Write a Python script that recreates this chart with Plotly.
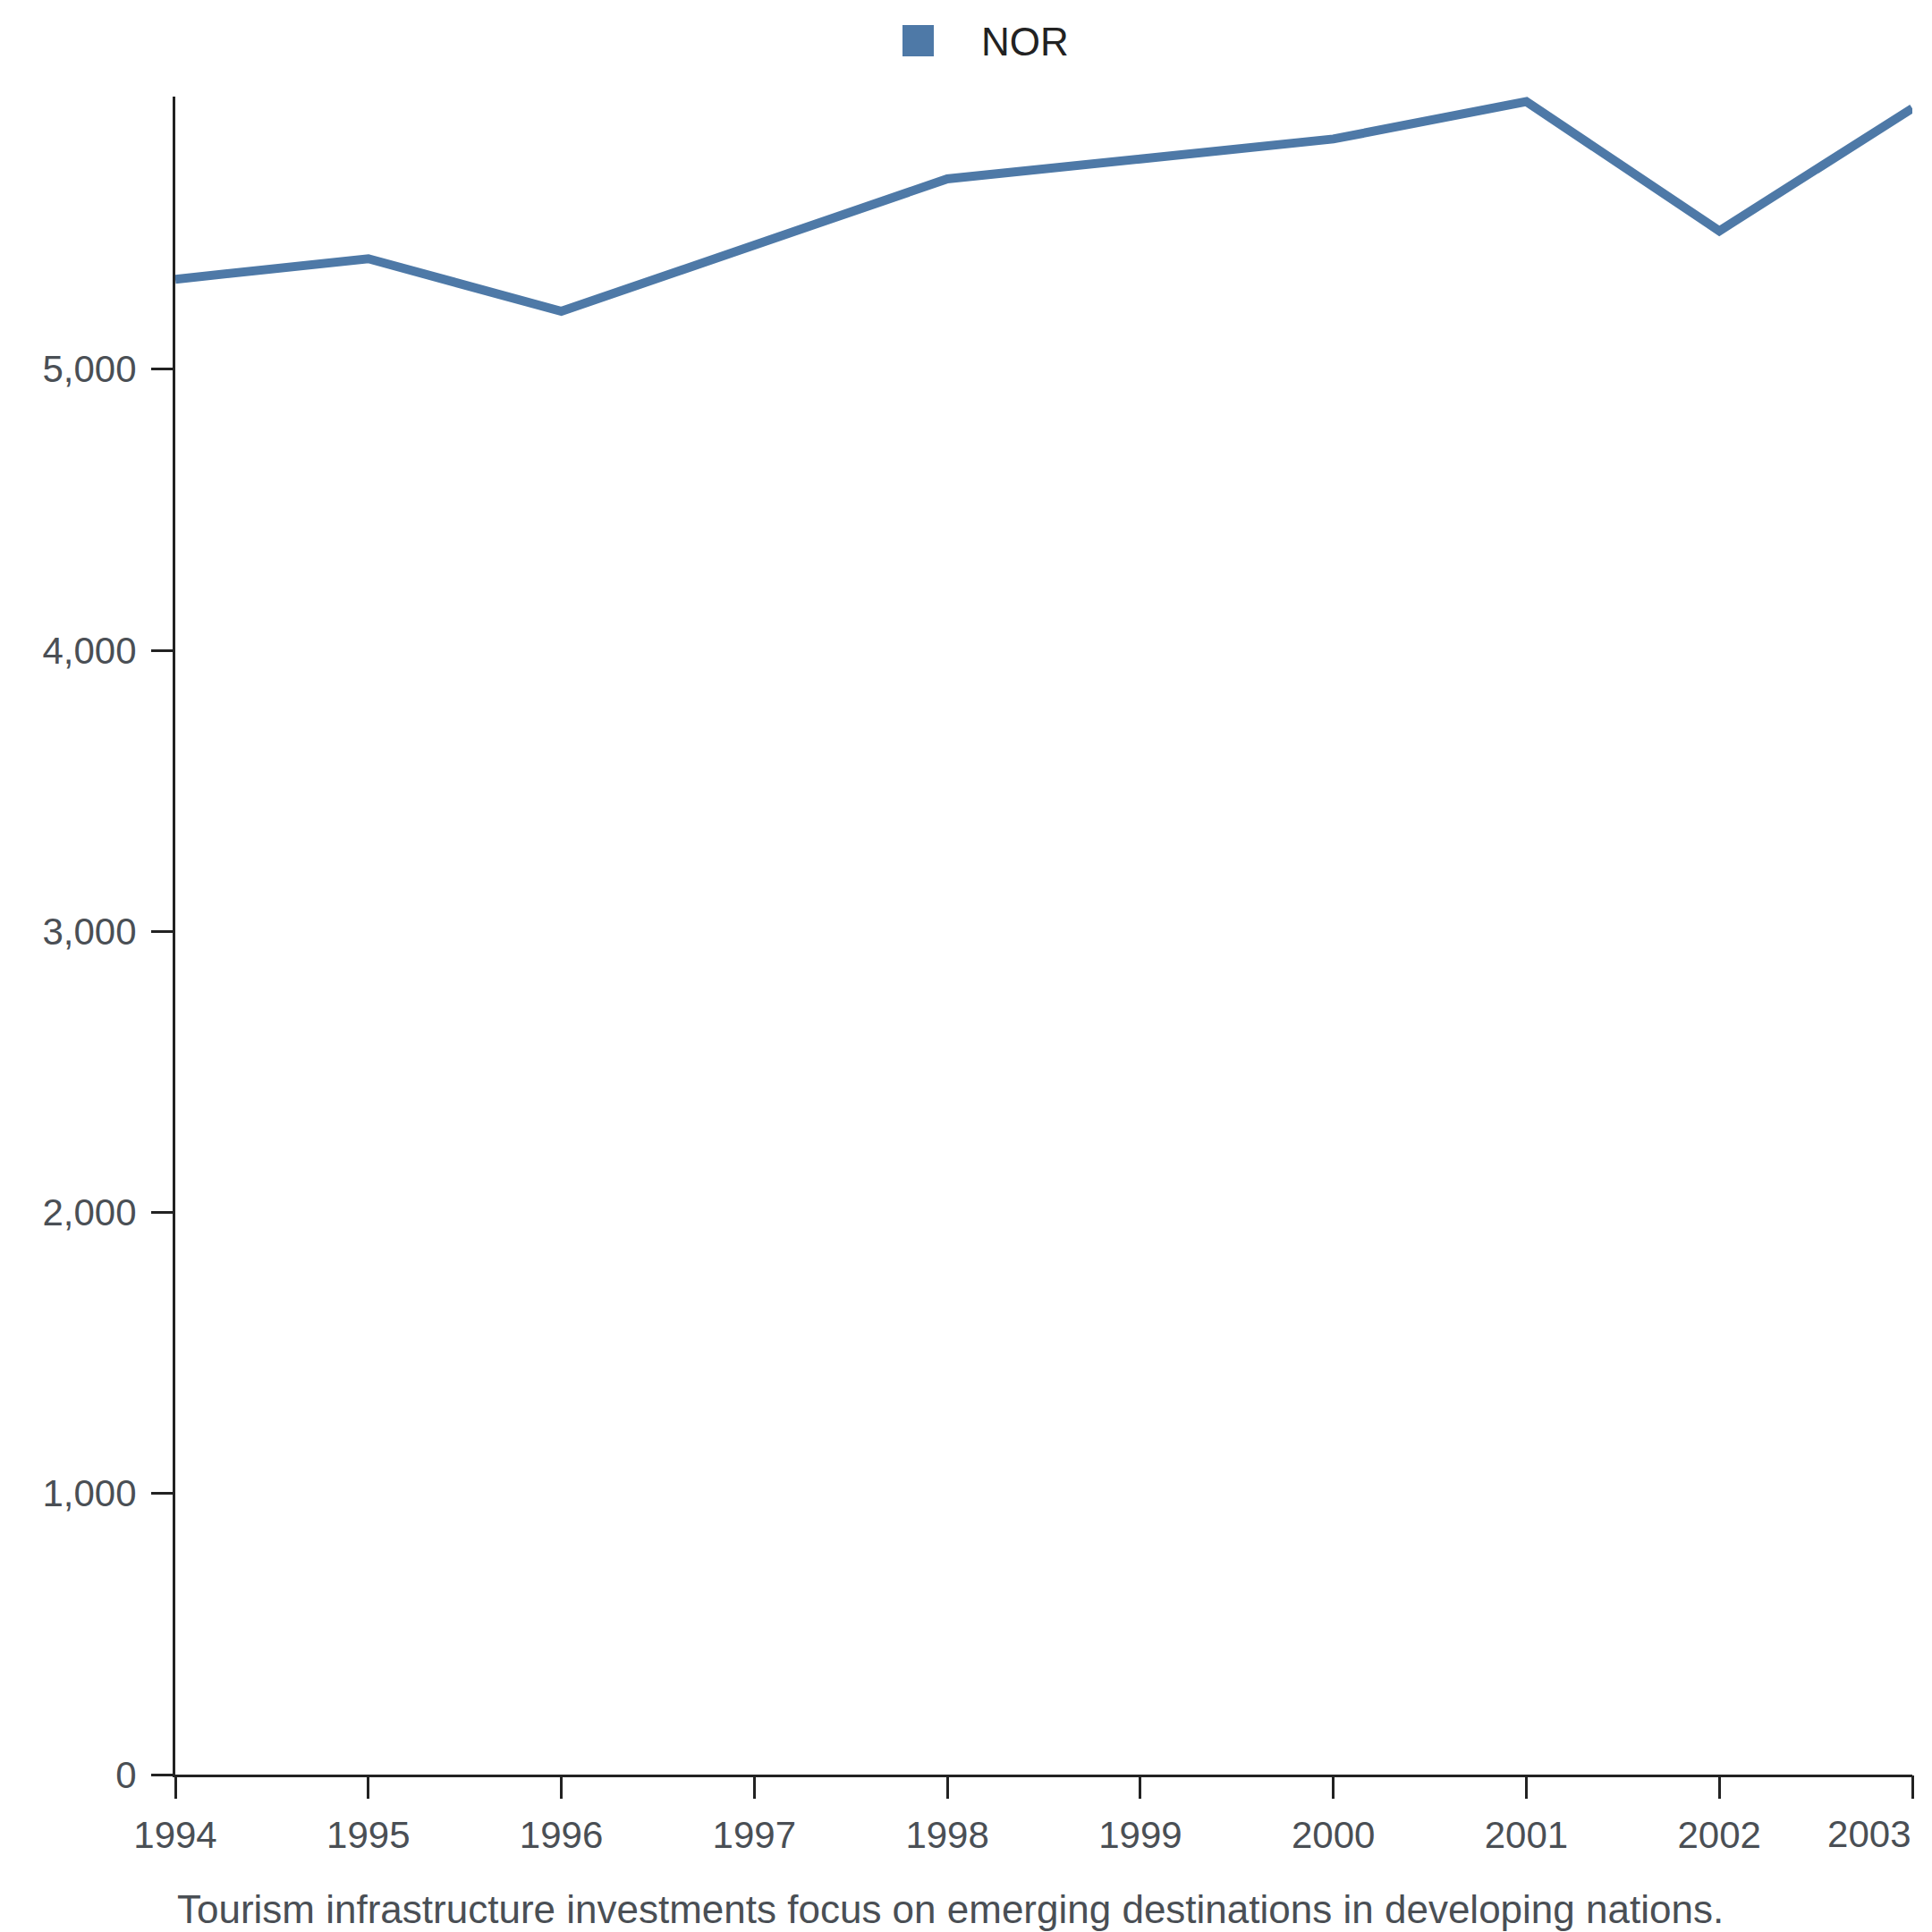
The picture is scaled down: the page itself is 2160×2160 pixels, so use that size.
import plotly.graph_objects as go

years = [1994, 1995, 1996, 1997, 1998, 1999, 2000, 2001, 2002, 2003]
nor_values = [5320, 5393, 5206, 5442, 5677, 5748, 5819, 5952, 5492, 5928]
y_ticks = [0, 1000, 2000, 3000, 4000, 5000]
series_name = "NOR"
caption = "Tourism infrastructure investments focus on emerging destinations in developing nations."

LINE_COLOR = "#4e79a7"
AXIS_COLOR = "#222222"
LABEL_COLOR = "#4a4f55"
FONT = "Liberation Sans, Arial, sans-serif"
FS = 42

# last year label is drawn right-aligned to its tick on an overlay axis
x_ticktext = [str(y) for y in years[:-1]] + [""]

fig = go.Figure()
fig.add_trace(go.Scatter(
    x=years, y=nor_values, mode="lines", name=series_name,
    line=dict(color=LINE_COLOR, width=10), showlegend=False,
))

ymax = max(nor_values) * 1.003

common_x = dict(
    range=[years[0], years[-1]], showgrid=False, zeroline=False,
    ticks="outside", ticklen=24, tickwidth=3, tickcolor=AXIS_COLOR,
    tickfont=dict(family=FONT, size=FS, color=LABEL_COLOR),
    automargin=False, fixedrange=True,
)

fig.update_layout(
    width=2160, height=2160,
    margin=dict(l=188, r=30, t=100, b=184, pad=0, autoexpand=False),
    paper_bgcolor="white", plot_bgcolor="white",
    font=dict(family=FONT, size=FS, color=LABEL_COLOR),
    xaxis=dict(
        tickmode="array", tickvals=years, ticktext=x_ticktext,
        showline=True, linecolor=AXIS_COLOR, linewidth=3,
        ticklabelstandoff=5, **common_x,
    ),
    xaxis2=dict(
        overlaying="x", anchor="y", side="bottom",
        tickmode="array", tickvals=[years[-1]], ticktext=[str(years[-1])],
        ticklabelposition="outside left", showline=False,
        ticklabelstandoff=30, **common_x,
    ),
    yaxis=dict(
        range=[0, ymax], tickmode="array", tickvals=y_ticks, tickformat=",",
        showgrid=False, zeroline=False, showline=True, linecolor=AXIS_COLOR, linewidth=3,
        ticks="outside", ticklen=24, tickwidth=3, tickcolor=AXIS_COLOR,
        tickfont=dict(family=FONT, size=FS, color=LABEL_COLOR),
        ticklabelstandoff=8, automargin=False,
    ),
    showlegend=False,
)

# invisible trace to activate the overlay axis
fig.add_trace(go.Scatter(x=[years[-1]], y=[None], xaxis="x2", yaxis="y",
                         mode="markers", showlegend=False, hoverinfo="skip"))

# legend (manual, large square swatch)
fig.add_shape(type="rect", xref="paper", yref="paper",
              xsizemode="pixel", ysizemode="pixel", xanchor=0, yanchor=1,
              x0=813, x1=848, y0=45, y1=80,
              fillcolor=LINE_COLOR, line=dict(width=0))
fig.add_annotation(text=series_name, xref="paper", yref="paper",
                   x=0, y=1, xanchor="left", yanchor="middle",
                   xshift=1087 - 188, yshift=62, showarrow=False,
                   font=dict(family=FONT, size=44, color="#222222"))

# caption
fig.add_annotation(text=caption, xref="paper", yref="paper",
                   x=0, y=0, xanchor="left", yanchor="middle",
                   yshift=-(2126 - 1976), showarrow=False,
                   font=dict(family=FONT, size=44, color=LABEL_COLOR))

fig.write_html("out.html")
